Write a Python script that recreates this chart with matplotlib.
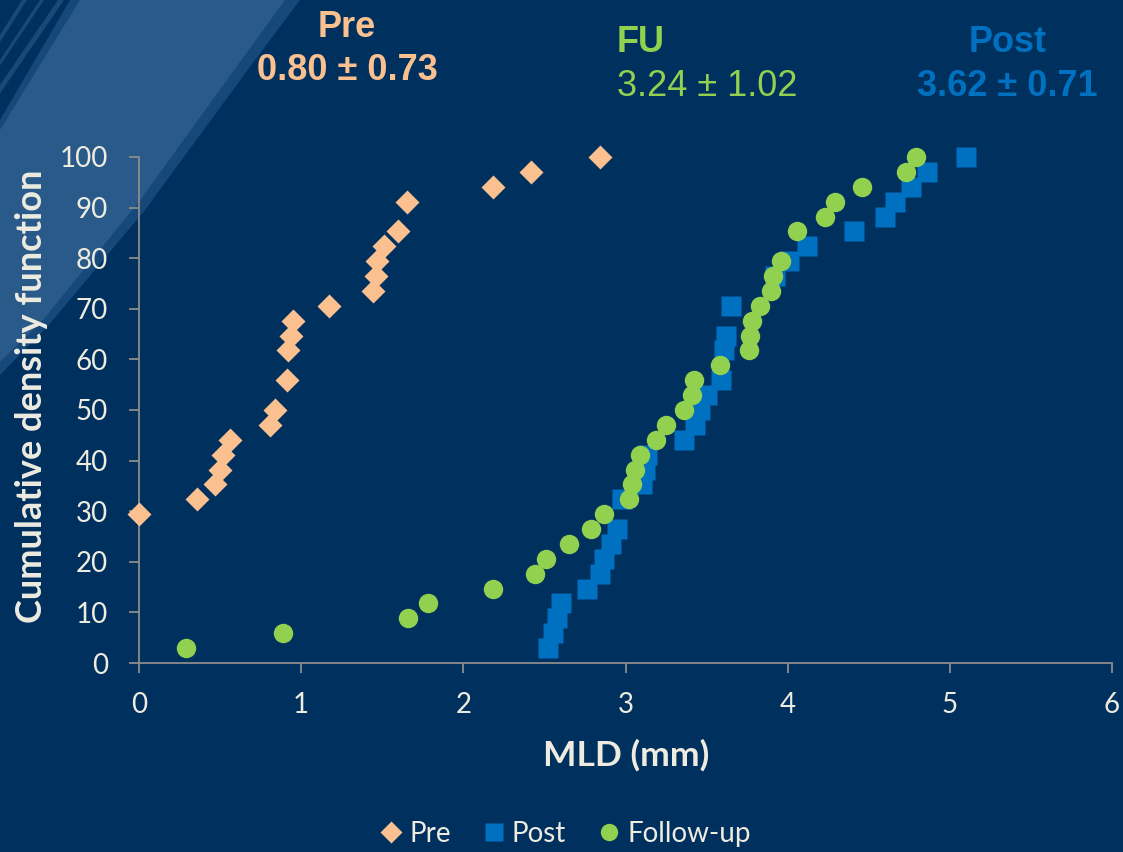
import matplotlib as mpl
mpl.use('Agg')
import matplotlib.pyplot as plt
from matplotlib.patches import Polygon
from matplotlib.lines import Line2D

# MLD values (mm) and cumulative percentages for each time point
pre_x = [0.00, 0.36, 0.47, 0.50, 0.52, 0.56, 0.81, 0.84, 0.91, 0.92, 0.94,
         0.95, 1.17, 1.44, 1.46, 1.47, 1.51, 1.60, 1.65, 2.18, 2.42, 2.84]
pre_y = [29.4, 32.4, 35.3, 38.2, 41.2, 44.1, 47.1, 50.0, 55.9, 61.8, 64.7,
         67.6, 70.6, 73.5, 76.5, 79.4, 82.4, 85.3, 91.2, 94.1, 97.1, 100.0]

post_x = [2.52, 2.55, 2.58, 2.60, 2.76, 2.84, 2.87, 2.91, 2.95, 2.98, 3.10,
          3.12, 3.13, 3.36, 3.43, 3.46, 3.50, 3.59, 3.61, 3.62, 3.65, 3.92,
          4.01, 4.12, 4.41, 4.60, 4.66, 4.76, 4.86, 5.10]
post_y = [2.9, 5.9, 8.8, 11.8, 14.7, 17.6, 20.6, 23.5, 26.5, 32.4, 35.3,
          38.2, 41.2, 44.1, 47.1, 50.0, 52.9, 55.9, 61.8, 64.7, 70.6, 76.5,
          79.4, 82.4, 85.3, 88.2, 91.2, 94.1, 97.1, 100.0]

fu_x = [0.29, 0.89, 1.66, 1.78, 2.18, 2.44, 2.51, 2.65, 2.79, 2.87, 3.02,
        3.04, 3.06, 3.09, 3.19, 3.25, 3.36, 3.41, 3.42, 3.58, 3.76, 3.77,
        3.78, 3.83, 3.90, 3.91, 3.96, 4.06, 4.23, 4.29, 4.46, 4.73, 4.79]
fu_y = [2.9, 5.9, 8.8, 11.8, 14.7, 17.6, 20.6, 23.5, 26.5, 29.4, 32.4,
        35.3, 38.2, 41.2, 44.1, 47.1, 50.0, 52.9, 55.9, 58.8, 61.8, 64.7,
        67.6, 70.6, 73.5, 76.5, 79.4, 85.3, 88.2, 91.2, 94.1, 97.1, 100.0]

series_names = ['Pre', 'Post', 'Follow-up']
summary = [('Pre', '0.80 ± 0.73'), ('FU', '3.24 ± 1.02'), ('Post', '3.62 ± 0.71')]

BG = '#00305E'
STREAK = '#295A89'
STREAK2 = '#17487A'
PEACH = '#FAC090'
BLUE = '#0070C0'
GREEN = '#92D050'
TXT = '#EEECE1'
AXC = '#8C8C8C'

W, H = 1123, 852
fig = plt.figure(figsize=(W / 100, H / 100), dpi=100, facecolor=BG)


def px(pts):
    # pixel coords (origin top-left) -> figure fraction
    return [(x / W, 1 - y / H) for x, y in pts]


def brush(pts, color, alpha=1.0):
    fig.add_artist(Polygon(px(pts), closed=True, transform=fig.transFigure,
                           facecolor=color, edgecolor='none', alpha=alpha,
                           zorder=0))


# brush stroke in the top-left corner
brush([(70, 0), (300, 0), (255, 60), (145, 210), (48, 326), (0, 375),
       (0, 120)], STREAK2)
brush([(80, 0), (285, 0), (245, 55), (138, 203), (43, 320), (0, 362),
       (0, 130)], STREAK)
for x0, y1, w in [(22, 35, 5), (40, 60, 4), (58, 85, 6)]:
    brush([(x0, 0), (x0 + w, 0), (0, y1 + w * 1.4), (0, y1)], STREAK, 0.6)

ax = fig.add_axes([139 / W, 1 - 663 / H, (1112 - 139) / W, (663 - 157) / H])
ax.set_facecolor('none')
ax.set_zorder(2)

ax.plot(pre_x, pre_y, ls='none', marker='D', ms=12.3, color=PEACH,
        mec='none', clip_on=False, zorder=3)
ax.plot(post_x, post_y, ls='none', marker='s', ms=14.2, color=BLUE,
        mec='none', clip_on=False, zorder=4)
ax.plot(fu_x, fu_y, ls='none', marker='o', ms=14.0, color=GREEN,
        mec='none', clip_on=False, zorder=5)

ax.set_xlim(0, 6)
ax.set_ylim(0, 100)
ax.set_xticks(range(0, 7))
ax.set_yticks(range(0, 101, 10))
for s in ['top', 'right']:
    ax.spines[s].set_visible(False)
for s in ['left', 'bottom']:
    ax.spines[s].set_color(AXC)
    ax.spines[s].set_linewidth(1.3)
ax.tick_params(axis='both', colors=AXC, width=1.3, length=7.2,
               labelcolor=TXT, labelsize=20)
ax.tick_params(axis='y', pad=15)
ax.tick_params(axis='x', pad=14)
for lab in ax.get_xticklabels() + ax.get_yticklabels():
    lab.set_family('Lato')

ax.text(-0.11, 0.528, 'Cumulative density function', transform=ax.transAxes,
        rotation=90, ha='center', va='center', fontsize=26, fontweight='bold',
        family='Lato', color=TXT)
ax.text(0.5006, -0.182, 'MLD (mm)', transform=ax.transAxes, ha='center',
        va='center', fontsize=25.5, fontweight='bold', family='Lato', color=TXT)

# group summaries (mean ± SD)
ts = dict(family='Liberation Sans', fontsize=26)
fig.text(347 / W, 1 - 37 / H, summary[0][0], ha='center', va='baseline',
         color=PEACH, fontweight='bold', **ts)
fig.text(347 / W, 1 - 80 / H, summary[0][1], ha='center', va='baseline',
         color=PEACH, fontweight='bold', **ts)
fig.text(617 / W, 1 - 52 / H, summary[1][0], ha='left', va='baseline',
         color=GREEN, fontweight='bold', **ts)
fig.text(617 / W, 1 - 96 / H, summary[1][1], ha='left', va='baseline',
         color=GREEN, **ts)
fig.text(1008 / W, 1 - 52 / H, summary[2][0], ha='center', va='baseline',
         color=BLUE, fontweight='bold', **ts)
fig.text(1007 / W, 1 - 96 / H, summary[2][1], ha='center', va='baseline',
         color=BLUE, fontweight='bold', **ts)

handles = [Line2D([], [], ls='none', marker='D', ms=11, color=PEACH, mec='none'),
           Line2D([], [], ls='none', marker='s', ms=12.5, color=BLUE, mec='none'),
           Line2D([], [], ls='none', marker='o', ms=12.5, color=GREEN, mec='none')]
leg = fig.legend(handles, series_names, loc='center', ncol=3, frameon=False,
                 bbox_to_anchor=(566 / W, 1 - 834 / H), handlelength=0.7,
                 handletextpad=0.3, columnspacing=1.2,
                 prop={'family': 'Lato', 'size': 20})
for t in leg.get_texts():
    t.set_color(TXT)

fig.savefig('out.png', dpi=100, facecolor=BG)
